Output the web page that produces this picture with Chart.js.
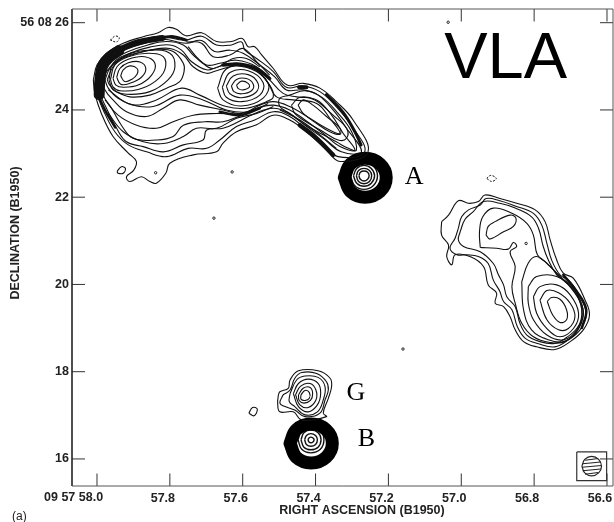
<!DOCTYPE html>
<html>
<head>
<meta charset="utf-8">
<title>VLA map</title>
<script src="https://cdn.jsdelivr.net/npm/chart.js@4"></script>
<style>
html, body { margin: 0; padding: 0; background: #fff; }
canvas { display: block; }
</style>
</head>
<body>
<canvas id="vlaMap" width="614" height="522"></canvas>
<script>
// tick values and labels
var raTicks = [58.0, 57.8, 57.6, 57.4, 57.2, 57.0, 56.8, 56.6];
var raTickLabels = ['', '57.8', '57.6', '57.4', '57.2', '57.0', '56.8', '56.6'];
var decTicks = [26, 24, 22, 20, 18, 16];
var decTickLabels = ['56 08 26', '24', '22', '20', '18', '16'];

// contours, [RA seconds, Dec seconds]
var lobeOuter = [[58.010,24.69],[58.000,25.03],[57.974,25.30],[57.928,25.53],[57.873,25.68],[57.832,25.77],[57.805,25.89],[57.782,25.85],[57.756,25.70],[57.713,25.77],[57.672,25.57],[57.631,25.57],[57.601,25.64],[57.585,25.45],[57.567,25.45],[57.548,25.26],[57.516,24.95],[57.478,24.57],[57.434,24.61],[57.388,24.50],[57.343,24.19],[57.297,23.77],[57.256,23.04],[57.333,22.82],[57.370,23.08],[57.425,23.50],[57.471,23.77],[57.516,23.88],[57.562,23.66],[57.617,23.50],[57.654,23.24],[57.672,23.04],[57.736,22.97],[57.800,22.78],[57.811,22.55],[57.837,22.32],[57.855,22.36],[57.878,22.47],[57.910,22.36],[57.919,22.47],[57.899,22.62],[57.892,22.82],[57.914,23.01],[57.956,23.39],[57.988,23.92],[58.006,24.38]];
var lobe2 = [[58.003,24.69],[57.992,24.99],[57.967,25.24],[57.924,25.45],[57.869,25.62],[57.827,25.69],[57.759,25.60],[57.713,25.69],[57.672,25.49],[57.631,25.49],[57.603,25.56],[57.594,25.37],[57.562,25.18],[57.516,24.88],[57.480,24.52],[57.434,24.55],[57.388,24.42],[57.347,24.11],[57.306,23.69],[57.265,23.04],[57.338,22.93],[57.379,23.23],[57.429,23.58],[57.471,23.85],[57.516,23.96],[57.567,23.77],[57.617,23.62],[57.663,23.31],[57.699,23.12],[57.750,23.12],[57.809,22.93],[57.864,23.04],[57.914,23.20],[57.951,23.50],[57.983,24.00],[58.000,24.38]];
var lobe3 = [[57.997,24.69],[57.985,24.95],[57.960,25.18],[57.919,25.39],[57.864,25.54],[57.818,25.62],[57.756,25.53],[57.713,25.59],[57.677,25.34],[57.635,25.37],[57.599,25.30],[57.553,25.03],[57.512,24.76],[57.480,24.46],[57.434,24.46],[57.393,24.34],[57.352,24.00],[57.315,23.58],[57.274,23.04],[57.329,23.04],[57.379,23.35],[57.429,23.65],[57.471,23.92],[57.516,24.04],[57.567,23.92],[57.612,23.73],[57.654,23.58],[57.699,23.54],[57.709,23.31],[57.763,23.20],[57.818,23.04],[57.873,23.16],[57.919,23.27],[57.946,23.58],[57.974,24.04],[57.992,24.38]];
var lobe4 = [[57.990,24.69],[57.978,24.92],[57.956,25.15],[57.914,25.34],[57.860,25.49],[57.809,25.57],[57.763,25.49],[57.736,25.26],[57.699,25.03],[57.663,25.07],[57.617,25.14],[57.562,24.99],[57.526,24.69],[57.489,24.38],[57.452,24.30],[57.397,24.23],[57.356,23.88],[57.324,23.46],[57.292,23.08],[57.333,23.16],[57.379,23.46],[57.429,23.77],[57.471,24.00],[57.516,24.11],[57.562,24.04],[57.603,23.88],[57.654,23.73],[57.704,23.73],[57.763,23.65],[57.791,23.39],[57.837,23.31],[57.901,23.35],[57.933,23.65],[57.960,24.04],[57.983,24.34]];
var lobe5 = [[57.985,24.69],[57.972,24.90],[57.948,25.11],[57.910,25.30],[57.855,25.44],[57.800,25.49],[57.768,25.37],[57.741,25.11],[57.699,24.92],[57.667,24.99],[57.617,25.07],[57.562,24.92],[57.530,24.61],[57.507,24.30],[57.462,24.23],[57.397,24.15],[57.361,23.81],[57.333,23.46],[57.379,23.62],[57.429,23.88],[57.471,24.08],[57.516,24.19],[57.553,24.11],[57.603,23.92],[57.654,24.00],[57.718,24.11],[57.773,24.23],[57.818,24.04],[57.864,23.85],[57.919,23.96],[57.956,24.23],[57.978,24.46]];
var lobe6 = [[57.978,24.69],[57.965,24.95],[57.942,25.14],[57.905,25.26],[57.855,25.37],[57.800,25.41],[57.763,25.26],[57.736,24.99],[57.699,24.84],[57.672,24.90],[57.617,25.01],[57.562,24.88],[57.526,24.57],[57.516,24.30],[57.535,24.19],[57.590,24.04],[57.645,24.08],[57.718,24.34],[57.768,24.50],[57.837,24.23],[57.896,24.11],[57.942,24.27],[57.969,24.50]];
var lobe7 = [[57.972,24.69],[57.956,24.99],[57.928,25.21],[57.887,25.31],[57.837,25.39],[57.791,25.34],[57.763,25.07],[57.761,24.88],[57.773,24.65],[57.809,24.50],[57.855,24.34],[57.910,24.30],[57.946,24.42],[57.965,24.57]];
var west1 = [[57.935,24.78],[57.928,24.92],[57.910,25.01],[57.890,24.95],[57.890,24.82],[57.905,24.70],[57.924,24.65]];
var west2 = [[57.946,24.75],[57.937,24.95],[57.914,25.08],[57.882,25.10],[57.866,24.95],[57.878,24.75],[57.910,24.61],[57.935,24.59]];
var west3 = [[57.956,24.72],[57.945,24.99],[57.914,25.16],[57.869,25.22],[57.841,25.07],[57.850,24.80],[57.887,24.57],[57.928,24.52],[57.948,24.57]];
var west4 = [[57.963,24.70],[57.951,25.03],[57.914,25.22],[57.860,25.30],[57.818,25.22],[57.814,24.92],[57.841,24.65],[57.887,24.47],[57.937,24.44],[57.956,24.53]];
var west5 = [[57.967,24.69],[57.956,25.07],[57.914,25.28],[57.855,25.37],[57.800,25.30],[57.786,24.99],[57.805,24.69],[57.855,24.42],[57.919,24.36],[57.956,24.46]];
var mid1 = [[57.617,24.57],[57.603,24.66],[57.585,24.61],[57.582,24.52],[57.599,24.46],[57.612,24.49]];
var mid2 = [[57.631,24.55],[57.617,24.70],[57.590,24.72],[57.571,24.59],[57.576,24.44],[57.603,24.37],[57.624,24.42]];
var mid3 = [[57.645,24.55],[57.626,24.78],[57.585,24.81],[57.558,24.61],[57.564,24.40],[57.603,24.28],[57.635,24.37]];
var mid4 = [[57.656,24.52],[57.635,24.86],[57.585,24.90],[57.544,24.63],[57.553,24.34],[57.603,24.19],[57.645,24.29]];
var mid5 = [[57.669,24.50],[57.645,24.94],[57.585,24.99],[57.530,24.61],[57.544,24.27],[57.603,24.09],[57.654,24.23]];
var jet1 = [[57.448,24.11],[57.434,24.23],[57.407,24.11],[57.370,23.85],[57.333,23.58],[57.333,23.44],[57.361,23.50],[57.397,23.69],[57.434,23.92]];
var jet2 = [[57.466,24.11],[57.443,24.29],[57.402,24.23],[57.352,23.88],[57.315,23.58],[57.315,23.35],[57.338,23.31],[57.379,23.50],[57.434,23.77],[57.457,23.92]];
var jet3 = [[57.471,24.34],[57.429,24.44],[57.384,24.30],[57.338,23.92],[57.301,23.50],[57.288,23.08],[57.310,23.12],[57.343,23.27],[57.379,23.43],[57.434,23.69],[57.471,23.92],[57.498,24.08],[57.498,24.27]];
var island = [[57.945,22.59],[57.933,22.70],[57.922,22.66],[57.928,22.55],[57.942,22.55]];

// open runs of contour inside the lobe
var runLowA = [[57.978,24.23],[57.942,23.88],[57.891,23.65],[57.837,23.58],[57.791,23.73],[57.736,23.88],[57.672,23.92],[57.608,23.92],[57.544,24.08]];
var runLowB = [[57.969,23.92],[57.928,23.50],[57.873,23.27],[57.818,23.23],[57.763,23.39],[57.727,23.58],[57.672,23.58],[57.617,23.81],[57.562,23.92],[57.516,24.08]];
var runInner = [[57.969,24.46],[57.914,24.15],[57.846,24.08],[57.773,24.34],[57.709,24.23],[57.645,24.00],[57.580,23.96],[57.530,24.15]];
var runUpA = [[57.750,25.45],[57.718,25.14],[57.681,24.95],[57.626,25.18],[57.590,25.18],[57.553,24.99]];
var runUpB = [[57.754,25.56],[57.713,25.53],[57.681,25.22],[57.635,25.26],[57.599,25.41],[57.562,25.11],[57.526,24.80]];
var runNeck = [[57.498,24.00],[57.443,23.77],[57.388,23.43],[57.343,23.12]];

// places where the contours run together into black
var bandNW1 = [[57.994,24.35],[57.992,24.69],[57.985,25.00],[57.967,25.20],[57.940,25.36]];
var bandNW2 = [[57.940,25.38],[57.900,25.52],[57.860,25.60],[57.820,25.65]];
var bandNW3 = [[57.820,25.66],[57.790,25.68],[57.755,25.60]];
var bandMid = [[57.654,25.03],[57.608,25.05],[57.562,24.95],[57.526,24.72]];
var bandJetBlob = [[57.445,24.52],[57.425,24.52]];
var bandJetTop = [[57.370,24.35],[57.325,23.95],[57.292,23.50],[57.275,23.20]];
var bandJetLow = [[57.443,23.65],[57.397,23.35],[57.352,22.97]];
var bandSW = [[57.995,24.30],[57.975,23.95],[57.950,23.60]];
var bandBelow = [[57.663,23.96],[57.608,23.88],[57.553,24.04]];
var bandEast = [[56.720,20.22],[56.683,19.84],[56.657,19.42],[56.669,19.00]];

// core A
var coreABlack = [[57.321,22.45],[57.304,22.76],[57.264,22.89],[57.223,22.76],[57.206,22.45],[57.223,22.13],[57.264,22.00],[57.304,22.13]];
var coreAFleck = [[57.314,22.47],[57.300,22.75],[57.267,22.86],[57.234,22.75],[57.220,22.47],[57.234,22.19],[57.267,22.08],[57.300,22.19]];
var coreA1 = [[57.281,22.49],[57.277,22.57],[57.267,22.60],[57.257,22.57],[57.253,22.49],[57.257,22.41],[57.267,22.37],[57.277,22.41]];
var coreA2 = [[57.288,22.49],[57.282,22.61],[57.267,22.66],[57.252,22.61],[57.246,22.49],[57.252,22.36],[57.267,22.31],[57.282,22.36]];
var coreA3 = [[57.296,22.49],[57.287,22.66],[57.267,22.73],[57.247,22.66],[57.238,22.49],[57.247,22.32],[57.267,22.25],[57.287,22.32]];
var coreA4 = [[57.304,22.49],[57.293,22.71],[57.267,22.80],[57.241,22.71],[57.230,22.49],[57.241,22.27],[57.267,22.18],[57.293,22.27]];

// east lobe
var east1 = [[57.054,21.44],[57.035,21.59],[57.008,21.92],[56.980,21.86],[56.953,21.90],[56.935,22.05],[56.894,21.97],[56.848,21.86],[56.797,21.71],[56.770,21.44],[56.756,21.02],[56.738,20.56],[56.720,20.26],[56.692,20.14],[56.660,19.64],[56.648,19.30],[56.665,18.96],[56.701,18.69],[56.743,18.51],[56.793,18.57],[56.829,18.69],[56.852,18.96],[56.866,19.26],[56.884,19.49],[56.907,19.57],[56.903,19.80],[56.926,19.99],[56.939,20.41],[56.976,20.64],[57.017,20.68],[57.026,20.45],[57.040,20.64],[57.035,20.90],[57.054,21.13]];
var east2 = [[57.008,21.29],[56.999,21.55],[56.980,21.71],[56.948,21.82],[56.932,21.97],[56.894,21.92],[56.852,21.80],[56.802,21.63],[56.779,21.36],[56.765,20.94],[56.752,20.56],[56.729,20.22],[56.701,20.06],[56.669,19.64],[56.657,19.30],[56.674,18.96],[56.706,18.73],[56.743,18.57],[56.788,18.64],[56.825,18.77],[56.846,19.03],[56.861,19.42],[56.884,19.61],[56.894,19.84],[56.912,20.10],[56.926,20.48],[56.953,20.64],[56.985,20.68],[57.012,20.68],[57.031,20.83],[57.017,21.06]];
var east3 = [[57.003,21.21],[56.990,21.49],[56.967,21.67],[56.939,21.90],[56.894,21.86],[56.852,21.75],[56.807,21.55],[56.788,21.29],[56.775,20.87],[56.761,20.56],[56.738,20.22],[56.710,20.03],[56.674,19.61],[56.665,19.30],[56.683,18.99],[56.710,18.79],[56.743,18.65],[56.784,18.69],[56.820,18.84],[56.839,19.11],[56.852,19.49],[56.875,19.72],[56.884,19.99],[56.898,20.22],[56.912,20.48],[56.948,20.75],[56.994,20.87],[57.008,21.02]];
var east4 = [[56.948,20.85],[56.950,21.21],[56.941,21.55],[56.912,21.75],[56.861,21.63],[56.820,21.40],[56.802,21.13],[56.791,20.68],[56.765,20.49],[56.729,20.18],[56.692,19.91],[56.669,19.42],[56.678,18.99],[56.715,18.69],[56.756,18.67],[56.802,18.80],[56.834,19.11],[56.852,19.57],[56.861,19.95],[56.852,20.41],[56.866,20.75],[56.848,20.87],[56.857,20.96],[56.871,20.81],[56.903,20.83]];
var east5 = [[56.932,21.13],[56.926,21.33],[56.907,21.44],[56.866,21.59],[56.850,21.52],[56.857,21.33],[56.884,21.21],[56.921,21.04]];
var hot1 = [[56.764,19.61],[56.752,19.70],[56.729,19.66],[56.711,19.42],[56.711,19.19],[56.729,19.13],[56.749,19.30]];
var hot2 = [[56.784,19.64],[56.765,19.86],[56.733,19.81],[56.701,19.57],[56.688,19.26],[56.706,18.99],[56.733,18.96],[56.765,19.19]];
var hot3 = [[56.802,19.72],[56.784,19.95],[56.738,19.99],[56.701,19.76],[56.678,19.34],[56.692,18.99],[56.729,18.80],[56.765,18.99],[56.793,19.34]];
var hot4 = [[56.816,19.95],[56.793,20.18],[56.738,20.18],[56.692,19.87],[56.669,19.42],[56.683,18.96],[56.720,18.73],[56.765,18.84],[56.802,19.19],[56.816,19.57]];
var hot5 = [[56.834,20.06],[56.816,20.49],[56.793,20.64],[56.756,20.41],[56.720,20.10],[56.683,19.80],[56.665,19.34],[56.683,18.92],[56.720,18.69],[56.761,18.73],[56.807,18.96],[56.829,19.42]];

// component G
var compG1 = [[57.502,17.47],[57.498,17.54],[57.475,17.62],[57.470,17.81],[57.447,18.02],[57.393,18.02],[57.360,17.85],[57.356,17.66],[57.365,17.39],[57.379,17.05],[57.370,16.97],[57.438,16.89],[57.461,17.08],[57.498,17.08],[57.504,17.28]];
var compG2 = [[57.489,17.47],[57.470,17.58],[57.457,17.85],[57.438,17.98],[57.397,17.96],[57.370,17.77],[57.365,17.58],[57.374,17.35],[57.388,17.05],[57.429,16.97],[57.457,17.12],[57.484,17.20],[57.498,17.28]];
var compG3 = [[57.470,17.50],[57.452,17.81],[57.429,17.90],[57.393,17.87],[57.374,17.66],[57.379,17.35],[57.395,17.08],[57.429,17.01],[57.457,17.20],[57.472,17.31]];
var compG4 = [[57.461,17.50],[57.447,17.73],[57.420,17.83],[57.393,17.73],[57.386,17.50],[57.395,17.24],[57.420,17.08],[57.447,17.20]];
var compG5 = [[57.455,17.47],[57.441,17.67],[57.415,17.73],[57.399,17.58],[57.399,17.35],[57.420,17.18],[57.443,17.24]];
var compG6 = [[57.447,17.47],[57.434,17.62],[57.415,17.64],[57.408,17.50],[57.414,17.34],[57.432,17.28],[57.445,17.34]];
var compG7 = [[57.440,17.47],[57.429,17.57],[57.417,17.52],[57.417,17.39],[57.429,17.34],[57.440,17.37]];

// core B
var coreBBlack = [[57.470,16.36],[57.453,16.67],[57.412,16.80],[57.371,16.67],[57.354,16.36],[57.371,16.04],[57.412,15.91],[57.453,16.04]];
var coreBFleck = [[57.459,16.38],[57.445,16.65],[57.412,16.76],[57.379,16.65],[57.365,16.38],[57.379,16.11],[57.412,16.00],[57.445,16.11]];
var coreB1 = [[57.421,16.44],[57.418,16.48],[57.413,16.50],[57.407,16.48],[57.404,16.44],[57.407,16.39],[57.413,16.37],[57.418,16.39]];
var coreB2 = [[57.430,16.44],[57.425,16.54],[57.413,16.58],[57.400,16.54],[57.395,16.44],[57.400,16.33],[57.413,16.29],[57.425,16.33]];
var coreB3 = [[57.440,16.44],[57.432,16.60],[57.413,16.66],[57.393,16.60],[57.385,16.44],[57.393,16.27],[57.413,16.21],[57.432,16.27]];
var coreB4 = [[57.448,16.44],[57.438,16.65],[57.413,16.73],[57.387,16.65],[57.377,16.44],[57.387,16.22],[57.413,16.14],[57.438,16.22]];

// little stray contours
var strayG = [[57.583,17.05],[57.573,17.18],[57.560,17.14],[57.569,16.99]];
var strayNW = [[57.963,25.60],[57.951,25.69],[57.939,25.66],[57.946,25.56]];
var strayE = [[56.930,22.43],[56.919,22.50],[56.904,22.43],[56.916,22.36]];
var strayDots = [[57.839,22.56],[57.629,22.58],[57.679,21.52],[57.160,18.52],[57.036,26.01],[56.822,20.94]];

// beam box in the corner
var beamBox = [[56.683,16.16],[56.601,16.16],[56.601,15.503],[56.683,15.503],[56.683,16.16]];
var beamRing = [[56.669,15.83],[56.661,15.99],[56.642,16.06],[56.623,15.99],[56.615,15.83],[56.623,15.68],[56.642,15.61],[56.661,15.68]];
var beamHatch = [[56.660,15.97],[56.624,16.01],null,[56.667,15.89],[56.617,15.93],null,[56.669,15.81],[56.615,15.85],null,[56.667,15.73],[56.617,15.77],null,[56.660,15.65],[56.624,15.69]];

// open lines stay open, the rest get closed
var openLines = [
    [runLowA, 1.1], [runLowB, 1.1], [runInner, 1.1], [runUpA, 1.1], [runUpB, 1.1], [runNeck, 1.1],
    [bandNW1, 11], [bandNW2, 6], [bandNW3, 3], [bandMid, 3.5], [bandJetBlob, 4], [bandJetTop, 3],
    [bandJetLow, 4.5], [bandSW, 2.5], [bandBelow, 2.5], [bandEast, 2.5]
];
var closedLines = [
    lobeOuter, lobe2, lobe3, lobe4, lobe5, lobe6, lobe7,
    west1, west2, west3, west4, west5,
    mid1, mid2, mid3, mid4, mid5,
    jet1, jet2, jet3, island, strayG,
    east1, east2, east3, east4, east5, hot1, hot2, hot3, hot4, hot5,
    compG1, compG2, compG3, compG4, compG5, compG6, compG7
];

function toPoints(list) {
    return list.map(function(p) {
        return p ? { x: p[0], y: p[1] } : { x: NaN, y: NaN };
    });
}

function lineSet(list, width, color, smooth, dash) {
    return {
        data: toPoints(list),
        showLine: true,
        fill: false,
        borderColor: color || '#111',
        borderWidth: width,
        borderDash: dash || [],
        borderCapStyle: width > 2 ? 'round' : 'butt',
        tension: smooth === false ? 0 : 0.4,
        pointRadius: 0,
        spanGaps: false
    };
}

function closeRing(list) {
    return list.concat([list[0]]);
}

var datasets = [];
closedLines.forEach(function(c) {
    datasets.push(lineSet(closeRing(c), 1.1));
});
openLines.forEach(function(b) {
    datasets.push(lineSet(b[0], b[1]));
});

// cores are drawn after the lobes so the black rings sit on top
datasets.push(lineSet(closeRing(coreABlack), 13, '#000'));
datasets.push(lineSet(closeRing(coreBBlack), 13, '#000'));
datasets.push(lineSet(closeRing(coreAFleck), 1, '#ddd', true, [1, 4]));
datasets.push(lineSet(closeRing(coreBFleck), 1, '#ddd', true, [1, 4]));
[coreA1, coreA2, coreA3, coreA4, coreB1, coreB2, coreB3, coreB4].forEach(function(c) {
    datasets.push(lineSet(closeRing(c), 1.4));
});

datasets.push(lineSet(closeRing(strayNW), 1, '#111', true, [2, 1.5]));
datasets.push(lineSet(closeRing(strayE), 1, '#111', true, [2, 1.5]));
datasets.push({
    data: toPoints(strayDots),
    showLine: false,
    pointRadius: 1.2,
    pointBackgroundColor: '#fff',
    pointBorderColor: '#222',
    pointBorderWidth: 1
});
datasets.push(lineSet(beamBox, 1.2, '#333', false));
datasets.push(lineSet(closeRing(beamRing), 1.2, '#222'));
datasets.push(lineSet(beamHatch, 1.2, '#222', false));

// frame, inward ticks and the loose lettering
var mapDecor = {
    id: 'mapDecor',
    afterDatasetsDraw: function(chart) {
        var c = chart.ctx;
        var a = chart.chartArea;
        var xs = chart.scales.x;
        var ys = chart.scales.y;

        c.save();
        c.strokeStyle = '#333';
        c.lineWidth = 1;
        raTicks.forEach(function(v) {
            var px = xs.getPixelForValue(v);
            c.beginPath();
            c.moveTo(px, a.top);
            c.lineTo(px, a.top + 12.5);
            c.moveTo(px, a.bottom);
            c.lineTo(px, a.bottom - 12.5);
            c.stroke();
        });
        decTicks.forEach(function(v) {
            var py = ys.getPixelForValue(v);
            c.beginPath();
            c.moveTo(a.left, py);
            c.lineTo(a.left + 13, py);
            c.moveTo(a.right, py);
            c.lineTo(a.right - 13, py);
            c.stroke();
        });

        // left side is heavier than the rest on the scan
        c.strokeStyle = '#222';
        c.lineWidth = 1.6;
        c.beginPath();
        c.moveTo(a.left, a.top);
        c.lineTo(a.left, a.bottom);
        c.stroke();
        c.strokeStyle = '#555';
        c.lineWidth = 1;
        c.beginPath();
        c.moveTo(a.left, a.top);
        c.lineTo(a.right, a.top);
        c.lineTo(a.right, a.bottom);
        c.lineTo(a.left, a.bottom);
        c.stroke();

        c.fillStyle = '#000';
        c.textBaseline = 'alphabetic';
        c.textAlign = 'left';
        c.font = '65px "Liberation Sans"';
        c.fillText('VLA', xs.getPixelForValue(57.047), ys.getPixelForValue(24.733));
        c.font = '26px "Liberation Serif"';
        c.fillText('A', xs.getPixelForValue(57.155), ys.getPixelForValue(22.314));
        c.fillText('G', xs.getPixelForValue(57.315), ys.getPixelForValue(17.341));
        c.fillText('B', xs.getPixelForValue(57.284), ys.getPixelForValue(16.287));

        c.fillStyle = '#222';
        c.font = 'bold 12.5px "Liberation Sans"';
        c.fillText('09 57 58.0', 44, 501);
        c.textAlign = 'center';
        c.fillText('RIGHT ASCENSION (B1950)', 362, 514);
        c.save();
        c.translate(19, 233);
        c.rotate(-Math.PI / 2);
        c.fillText('DECLINATION (B1950)', 0, 0);
        c.restore();
        c.textAlign = 'left';
        c.font = '12px "Liberation Sans"';
        c.fillText('(a)', 12, 520);
        c.restore();
    }
};

var myMap = new Chart(document.getElementById('vlaMap').getContext('2d'), {
    type: 'scatter',
    data: { datasets: datasets },
    plugins: [mapDecor],
    options: {
        responsive: false,
        animation: false,
        layout: { autoPadding: false, padding: { top: 9, right: 1, left: 0, bottom: 0 } },
        plugins: {
            legend: { display: false },
            tooltip: { enabled: false }
        },
        scales: {
            x: {
                type: 'linear',
                reverse: true,
                min: 56.5835,
                max: 58.0686,
                grid: { display: false, drawTicks: false },
                border: { display: false },
                afterBuildTicks: function(scale) {
                    scale.ticks = raTicks.map(function(v) { return { value: v }; });
                },
                afterFit: function(scale) {
                    scale.height = 36;
                    scale.paddingLeft = 0;
                    scale.paddingRight = 0;
                },
                ticks: {
                    autoSkip: false,
                    maxRotation: 0,
                    padding: 5,
                    labelOffset: -7,
                    color: '#222',
                    font: { family: 'Liberation Sans', size: 12.5, weight: 'bold' },
                    callback: function(value) {
                        return raTickLabels[raTicks.indexOf(value)];
                    }
                }
            },
            y: {
                type: 'linear',
                min: 15.38,
                max: 26.314,
                grid: { display: false, drawTicks: false },
                border: { display: false },
                afterBuildTicks: function(scale) {
                    scale.ticks = decTicks.map(function(v) { return { value: v }; });
                },
                afterFit: function(scale) {
                    scale.width = 72;
                    scale.paddingTop = 0;
                    scale.paddingBottom = 0;
                },
                ticks: {
                    autoSkip: false,
                    padding: 3,
                    color: '#222',
                    font: { family: 'Liberation Sans', size: 12.5, weight: 'bold' },
                    callback: function(value) {
                        return decTickLabels[decTicks.indexOf(value)];
                    }
                }
            }
        }
    }
});
</script>
</body>
</html>
